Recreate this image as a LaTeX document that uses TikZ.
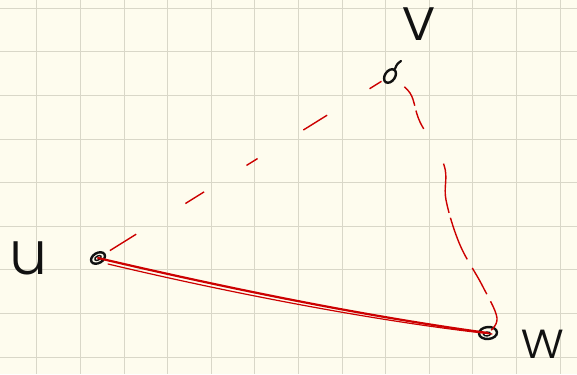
\documentclass[tikz,border=0pt]{standalone}
\usepackage{fontspec}
\newfontfamily\hand{Poppins Light}
\usetikzlibrary{shapes.geometric}
\definecolor{paper}{HTML}{FEFCEE}
\definecolor{gridc}{HTML}{D9D7C8}
\definecolor{pen}{HTML}{CC0000}
\definecolor{ink}{HTML}{111111}
\tikzset{
  gridline/.style={draw=gridc, line width=0.9pt},
  vtx/.style={ellipse, draw=ink, line width=2.4pt, inner sep=0pt, minimum width=14pt, minimum height=9pt},
  vtxin/.style={ellipse, draw=ink, line width=1.4pt, inner sep=0pt, minimum width=7pt, minimum height=4pt},
  lbl/.style={inner sep=0pt, text=ink, font=\hand\fontsize{60}{60}\selectfont},
  solidedge/.style={draw=pen, line cap=round, line join=round},
  dashedge/.style={draw=pen, line width=1.4pt, line cap=butt},
  inkline/.style={draw=ink, line width=2.2pt, line cap=round}
}
\begin{document}
\begin{tikzpicture}[x=1pt,y=-1pt]
\useasboundingbox (0,0) rectangle (577,374);
\fill[paper] (0,0) rectangle (577,374);
\foreach \i in {0,...,12} \draw[gridline] ({36.8+43.6*\i},0) -- ({36.8+43.6*\i},374);
\foreach \j in {0,...,8} \draw[gridline] (0,{8.3+43.6*\j}) -- (577,{8.3+43.6*\j});

% vertices
\node[vtx, rotate=30, minimum width=15pt, minimum height=10pt] (u) at (98,258) {};
\node[vtxin, rotate=30] (uin) at (98,258) {};
\node[vtx, rotate=55, minimum width=15pt, minimum height=10pt] (v) at (390,76) {};
\node[vtx, rotate=5, minimum width=18pt, minimum height=12pt] (w) at (488,333) {};
\node[vtxin, rotate=5] (win) at (487,334) {};
\draw[inkline] (v.east) .. controls (397,64) .. (401,61);

% labels
\node[lbl] (lv) at (419,24) {v};
\node[lbl] (lu) at (28,258) {u};
\node[lbl, font=\hand\fontsize{52}{52}\selectfont] (lw) at (543,344) {w};

% edge u--w (solid, sketched twice)
\draw[solidedge, line width=2.2pt] (u.center) .. controls (230,289) and (370,317) .. (w.center);
\draw[solidedge, line width=1.2pt] ([shift={(10,6)}]u.center) .. controls (230,293) and (380,322) .. ([shift={(4,1)}]w.center);

% edge u--v (dashed)
\draw[dashedge, dash pattern=on 0pt off 14pt on 31pt off 58pt on 22pt off 50pt on 13pt off 54pt on 28pt off 50pt on 14pt off 80pt] (u.center) -- (v.center);

% edge v--w (dashed, sketched)
\draw[dashedge, dash pattern=on 0pt off 18pt on 22pt off 5pt on 20pt off 40pt on 50pt off 5pt on 45pt off 10pt on 30pt off 8pt on 32pt off 80pt]
  plot[smooth, tension=0.6] coordinates {(v.center) (410,93) (420,122) (444,165) (446,200) (460,245) (482,285) (497,318) (w.center)};
\end{tikzpicture}
\end{document}
